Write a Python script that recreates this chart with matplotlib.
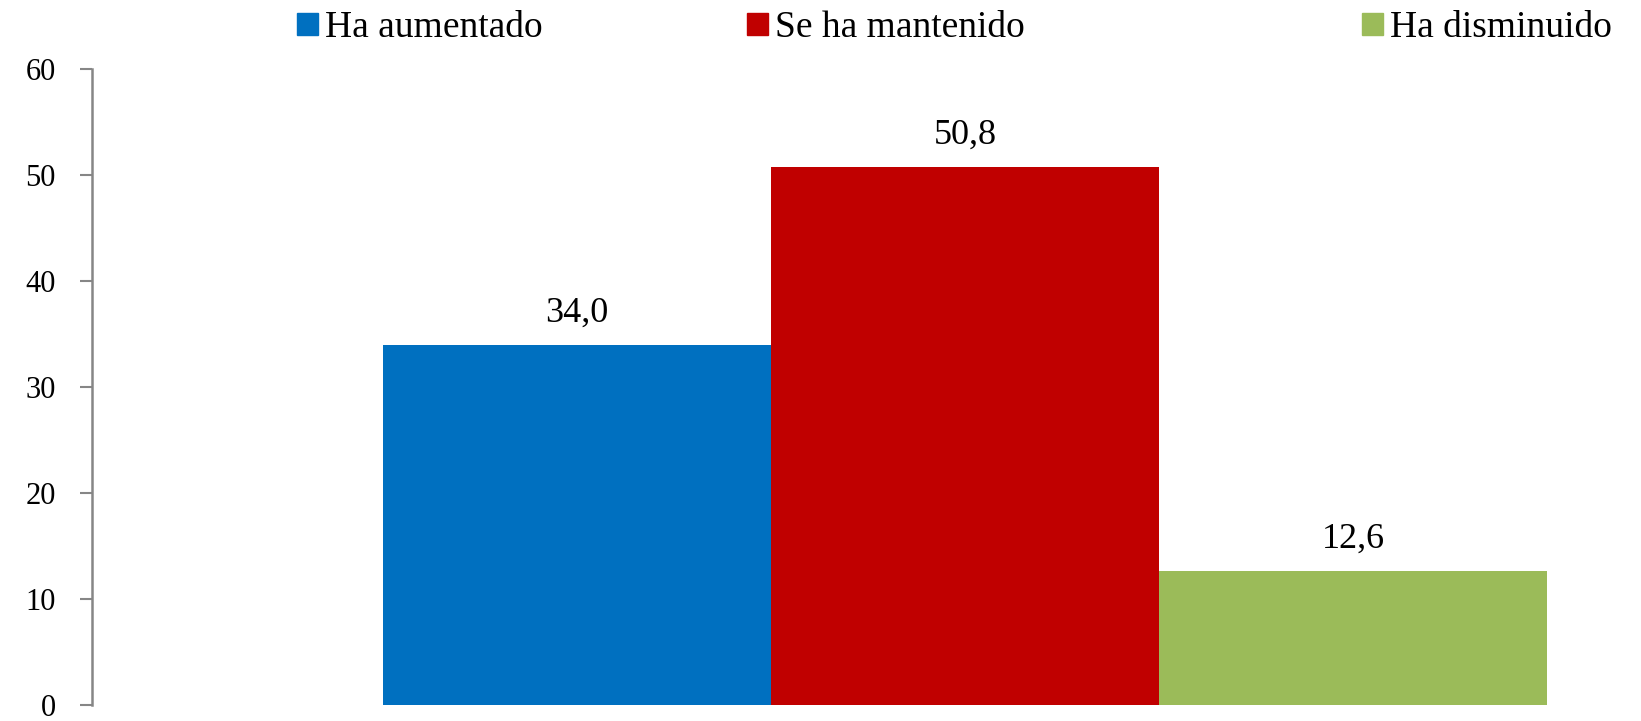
import matplotlib.pyplot as plt
from matplotlib.patches import Patch

# data
categories = ['Ha aumentado', 'Se ha mantenido', 'Ha disminuido']
values = [34.0, 50.8, 12.6]
colors = ['#0070C0', '#C00000', '#9BBB59']
yticks = [0, 10, 20, 30, 40, 50, 60]

plt.rcParams['font.family'] = ['Liberation Serif', 'DejaVu Serif']

W, H = 1641, 721
fig = plt.figure(figsize=(W / 100, H / 100), dpi=100)
# plot area in pixels: left 92, top 69, bottom 705
ax = fig.add_axes([92 / W, (H - 705) / H, (1620 - 92) / W, (705 - 69) / H])

xs = list(range(len(values)))
bars = ax.bar(xs, values, width=1.0, color=colors)

for b, v in zip(bars, values):
    ax.annotate(f'{v:.1f}'.replace('.', ','),
                (b.get_x() + b.get_width() / 2, v),
                xytext=(0, 11), textcoords='offset points',
                ha='center', va='bottom', fontsize=26)

ax.set_xlim(-1.25, 2.688)
ax.set_ylim(0, 60)
ax.set_yticks(yticks)
ax.set_yticklabels([str(t) for t in yticks], fontsize=22)
ax.tick_params(axis='y', length=9, width=1.5, color='#868686', pad=17)
ax.set_xticks([])

for s in ['top', 'right', 'bottom']:
    ax.spines[s].set_visible(False)
ax.spines['left'].set_color('#868686')
ax.spines['left'].set_linewidth(1.8)

# legend entries along the top
leg_x = [297, 747, 1362]
for cat, col, lx in zip(categories, colors, leg_x):
    fig.legend(handles=[Patch(color=col, label=cat)],
               loc='center left', bbox_to_anchor=(lx / W, 1 - 28 / H),
               frameon=False, fontsize=27, handlelength=0.55,
               handleheight=0.55, handletextpad=0.2, borderaxespad=0,
               borderpad=0)

fig.savefig('out.png', dpi=100)
